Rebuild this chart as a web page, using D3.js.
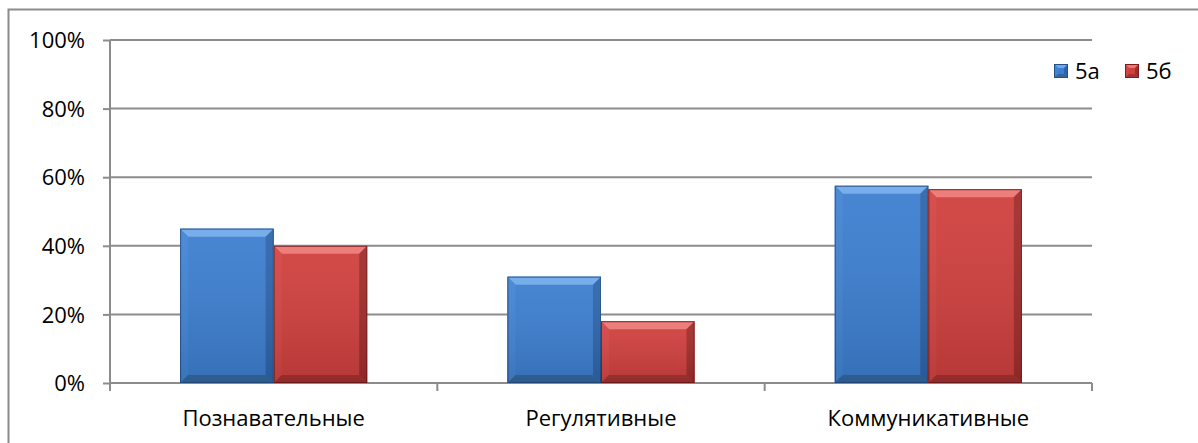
<!DOCTYPE html>
<html>
<head>
<meta charset="utf-8">
<script src="https://cdn.jsdelivr.net/npm/d3@7"></script>
<style>
  body { margin: 0; background: #fff; }
  text { font-family: "Open Sans", "Noto Sans", sans-serif; fill: #000; }
</style>
</head>
<body>
<div id="vis"></div>
<script>
// bar chart: share of UUD by class
const categories = ["Познавательные", "Регулятивные", "Коммуникативные"];
const seriesNames = ["5а", "5б"];
const values5a = [0.45, 0.31, 0.575];
const values5b = [0.40, 0.18, 0.565];
const yTicks = [0, 0.2, 0.4, 0.6, 0.8, 1];

const width = 1198;
const height = 443;
const margins = {top: 40, bottom: 60, left: 110, right: 106};
const fontSize = "22px";

const palette = {
  "5а": {main: "#3c7ed0", light: "#6fa9ea", dark: "#23508a", side: "#4284d4", bottom: "#33689f"},
  "5б": {main: "#cf3f3d", light: "#ec7673", dark: "#7a1d1c", side: "#d34543", bottom: "#a53231"}
};

const xScale = d3.scaleBand().domain(categories)
  .range([margins.left, width - margins.right]);
const yScale = d3.scaleLinear().domain([0, 1]).range([height - margins.bottom, margins.top]);

const svg = d3.select("#vis").append("svg").attr("width", width).attr("height", height);

// outer chart border (only top and left visible)
svg.append("path").attr("d", `M8.5,${height} V9.5 H${width}`)
  .attr("fill", "none").attr("stroke", "#8c8c8c").attr("stroke-width", 2);

// gridlines
svg.append("g").selectAll("line").data(yTicks.slice(1)).enter().append("line")
  .attr("x1", margins.left).attr("x2", width - margins.right)
  .attr("y1", d => yScale(d)).attr("y2", d => yScale(d))
  .attr("stroke", "#8c8c8c").attr("stroke-width", 2);

// y axis
const yAxis = d3.axisLeft(yScale).tickValues(yTicks).tickFormat(d3.format(".0%")).tickSize(7).tickPadding(18);
const yAxisG = svg.append("g").attr("transform", `translate(${margins.left},0)`).call(yAxis);
yAxisG.select(".domain").attr("stroke", "#8c8c8c").attr("stroke-width", 2).attr("d", `M0,${margins.top}V${height - margins.bottom + 8}`);
yAxisG.selectAll(".tick line").attr("stroke", "#8c8c8c").attr("stroke-width", 2);
yAxisG.selectAll(".tick text").style("font-size", fontSize).attr("dy", "0.35em");

// x axis
const xAxisG = svg.append("g").attr("transform", `translate(0,${yScale(0)})`);
xAxisG.append("line").attr("x1", margins.left).attr("x2", width - margins.right)
  .attr("stroke", "#8c8c8c").attr("stroke-width", 2);
const bounds = categories.map(c => xScale(c)).concat([xScale(categories[categories.length - 1]) + xScale.bandwidth()]);
xAxisG.selectAll("line.tk").data(bounds).enter().append("line").attr("class", "tk")
  .attr("x1", d => d).attr("x2", d => d).attr("y1", 0).attr("y2", 8)
  .attr("stroke", "#8c8c8c").attr("stroke-width", 2);
xAxisG.selectAll("text").data(categories).enter().append("text")
  .attr("x", d => xScale(d) + xScale.bandwidth() / 2).attr("y", 43)
  .attr("text-anchor", "middle").style("font-size", fontSize).text(d => d);

// bevelled bar
function drawBar(g, x, y0, w, h, col, bev) {
  const b = Math.min(bev, h / 2, w / 2);
  const x1 = x + w, y1 = y0 + h;
  g.append("rect").attr("x", x).attr("y", y0).attr("width", w).attr("height", h)
    .attr("fill", col.main);
  g.append("polygon").attr("points", `${x},${y0} ${x1},${y0} ${x1 - b},${y0 + b} ${x + b},${y0 + b}`)
    .attr("fill", col.light);
  g.append("polygon").attr("points", `${x},${y0} ${x + b},${y0 + b} ${x + b},${y1 - b} ${x},${y1}`)
    .attr("fill", col.side);
  g.append("polygon").attr("points", `${x1},${y0} ${x1 - b},${y0 + b} ${x1 - b},${y1 - b} ${x1},${y1}`)
    .attr("fill", col.dark).attr("opacity", 0.55);
  g.append("polygon").attr("points", `${x},${y1} ${x + b},${y1 - b} ${x1 - b},${y1 - b} ${x1},${y1}`)
    .attr("fill", col.bottom);
  g.append("rect").attr("x", x + 0.5).attr("y", y0 + 0.5).attr("width", w - 1).attr("height", h - 1)
    .attr("fill", "none").attr("stroke", col.dark).attr("stroke-width", 1);
}

const defs = svg.append("defs");
const grad = defs.append("linearGradient").attr("id", "shade").attr("x1", "0%").attr("y1", "0%").attr("x2", "0%").attr("y2", "100%");
grad.append("stop").attr("offset", "0%").attr("stop-color", "#fff").attr("stop-opacity", 0.06);
grad.append("stop").attr("offset", "100%").attr("stop-color", "#000").attr("stop-opacity", 0.12);

// bars: Excel gap width 150% -> bar width = band / 3.5
const barW = xScale.bandwidth() / 3.5;
const seriesValues = [values5a, values5b];
const barsG = svg.append("g");
categories.forEach((c, i) => {
  seriesNames.forEach((s, j) => {
    const x = xScale(c) + barW * 0.75 + j * barW;
    const y0 = yScale(seriesValues[j][i]);
    const h = yScale(0) - y0;
    const g = barsG.append("g");
    drawBar(g, x, y0, barW, h, palette[s], 8);
    g.append("rect").attr("x", x).attr("y", y0).attr("width", barW).attr("height", h).attr("fill", "url(#shade)");
  });
});

// legend
const legend = svg.append("g").attr("transform", "translate(1054,64)");
const legendX = d3.scaleOrdinal().domain(seriesNames).range([0, 71]);
seriesNames.forEach(s => {
  const g = legend.append("g").attr("transform", `translate(${legendX(s)},0)`);
  drawBar(g, 0, 0, 14, 14, palette[s], 4);
  g.append("text").attr("x", 21).attr("y", 7).attr("dy", "0.35em").style("font-size", fontSize).text(s);
});
</script>
</body>
</html>
